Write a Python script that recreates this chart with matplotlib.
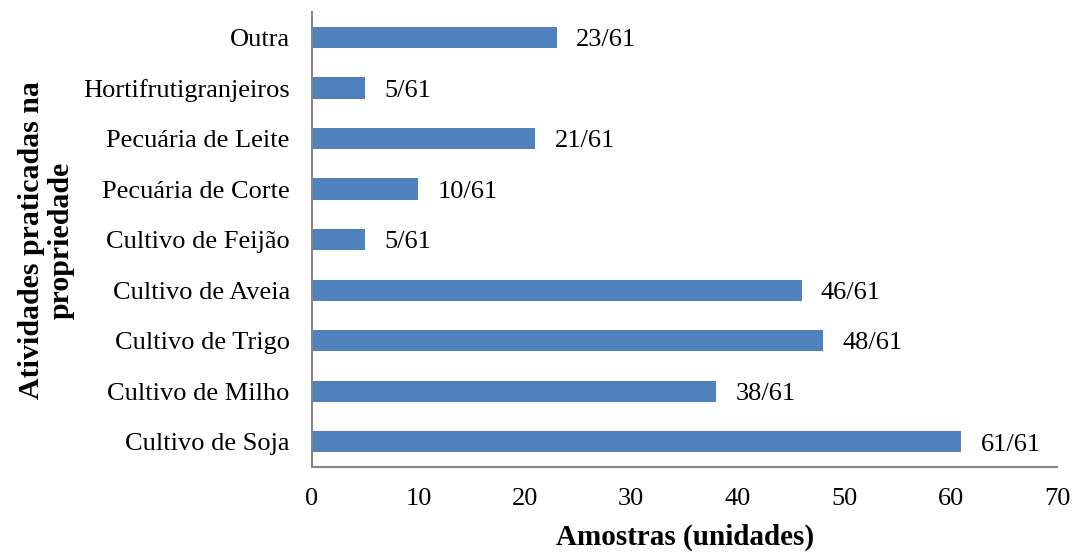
import matplotlib
matplotlib.use("Agg")
import matplotlib.pyplot as plt

categories = ["Cultivo de Soja", "Cultivo de Milho", "Cultivo de Trigo",
              "Cultivo de Aveia", "Cultivo de Feijão", "Pecuária de Corte",
              "Pecuária de Leite", "Hortifrutigranjeiros", "Outra"]
counts = [61, 38, 48, 46, 5, 10, 21, 5, 23]
total = 61
xticks = [0, 10, 20, 30, 40, 50, 60, 70]

plt.rcParams['font.family'] = ['Liberation Serif', 'DejaVu Serif']

fig = plt.figure(figsize=(10.77, 5.53), dpi=100)
ax = fig.add_axes([0.2897, 0.1555, 0.6917, 0.8225])

ypos = list(range(len(categories)))
ax.barh(ypos, counts, height=0.42, color="#4F81BD")
for y, v in zip(ypos, counts):
    ax.annotate(f"{v}/{total}", xy=(v, y), xytext=(14, -2), textcoords="offset points",
                ha="left", va="center", fontsize=19)

ax.set_xlim(0, 70)
ax.set_ylim(-0.5, len(categories) - 0.5)
ax.set_xticks(xticks)
ax.set_xticklabels([str(t) for t in xticks], fontsize=19)
ax.set_yticks(ypos)
ax.set_yticklabels(categories, fontsize=19)
ax.tick_params(axis="both", length=0)
ax.tick_params(axis="x", pad=15)
ax.tick_params(axis="y", pad=16)

for s in ("top", "right"):
    ax.spines[s].set_visible(False)
for s in ("left", "bottom"):
    ax.spines[s].set_color("#868686")
    ax.spines[s].set_linewidth(1.5)

fig.text(0.636, 0.004, "Amostras (unidades)", fontsize=21, fontweight="bold",
         ha="center", va="bottom")
fig.text(0.043, 0.566, "Atividades praticadas na\npropriedade", fontsize=21.5,
         fontweight="bold", rotation=90, ha="center", va="center",
         multialignment="center", linespacing=1.15)

fig.savefig("out.png", dpi=100)
